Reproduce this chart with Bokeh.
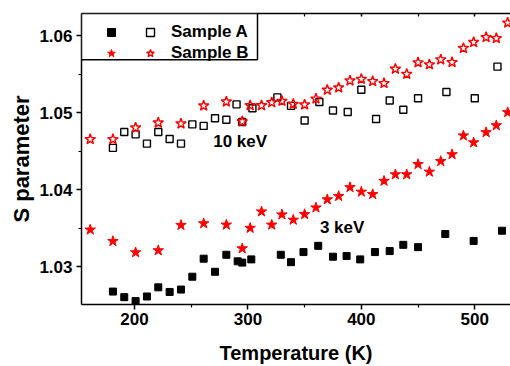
from bokeh.plotting import figure
from bokeh.models import Range1d, LinearAxis, Legend, LegendItem, Label, FixedTicker, BoxAnnotation
from bokeh.embed import file_html
from bokeh.resources import INLINE

# ---------------- data ----------------
# Sample A, 3 keV (filled squares)
temp_a_3kev = [181, 191, 201, 211, 221, 231, 241, 251, 261, 271, 281, 291, 295, 303,
               329, 338, 349, 362, 375, 387, 399, 412, 425, 437, 450, 474, 499, 524]
s_a_3kev = [1.02678, 1.02605, 1.02554, 1.02614, 1.02733, 1.02673, 1.02704, 1.02871,
            1.03105, 1.02935, 1.03156, 1.03071, 1.03054, 1.03096, 1.03156, 1.03060,
            1.03191, 1.03272, 1.03131, 1.03140, 1.03096, 1.03191, 1.03204, 1.03285,
            1.03255, 1.03426, 1.03336, 1.03468]

# Sample A, 10 keV (open squares)
temp_a_10kev = [181, 191, 201, 211, 221, 231, 241, 251, 261, 271, 281, 290, 295, 304,
                326, 338, 350, 363, 375, 388, 400, 413, 425, 437, 450, 475, 500, 520]
s_a_10kev = [1.04545, 1.04750, 1.04720, 1.04600, 1.04750, 1.04660, 1.04600, 1.04850,
             1.04830, 1.04930, 1.04910, 1.05110, 1.04880, 1.05060, 1.05200, 1.05090,
             1.04900, 1.05140, 1.05030, 1.05010, 1.05300, 1.04920, 1.05160, 1.05040,
             1.05190, 1.05270, 1.05190, 1.05600]

# Sample B (stars)
temp_b = [161, 181, 201, 221, 241, 261, 281, 295, 302, 312, 321, 330, 340, 350, 360, 370,
          380, 390, 400, 410, 420, 430, 440, 450, 460, 470, 480, 490, 499, 510, 519, 529]
s_b_3kev = [1.03481, 1.03332, 1.03186, 1.03212, 1.03541, 1.03563, 1.03545, 1.03237,
            1.03503, 1.03717, 1.03545, 1.03678, 1.03609, 1.03682, 1.03768, 1.03874,
            1.03917, 1.04032, 1.03973, 1.03942, 1.04114, 1.04199, 1.04199, 1.04332,
            1.04233, 1.04371, 1.04460, 1.04704, 1.04614, 1.04746, 1.04836, 1.05006]
s_b_10kev = [1.04656, 1.04656, 1.04806, 1.04871, 1.04858, 1.05092, 1.05144, 1.04887,
             1.05096, 1.05096, 1.05135, 1.05153, 1.05114, 1.05105, 1.05182, 1.05297,
             1.05327, 1.05417, 1.05438, 1.05409, 1.05383, 1.05570, 1.05503, 1.05653,
             1.05627, 1.05691, 1.05656, 1.05840, 1.05917, 1.05981, 1.05968, 1.06169]

x_major_ticks = [200, 300, 400, 500]
x_minor_ticks = [250, 350, 450]
y_major_ticks = [1.03, 1.04, 1.05, 1.06]
y_minor_ticks = [1.035, 1.045, 1.055]

series_names = ["Sample A", "Sample B"]
energy_labels = ["10 keV", "3 keV"]
# annotation anchors in data space (left, baseline)
energy_label_pos = [(269.4, 1.04622), (363.5, 1.03512)]

FONT = "Liberation Sans"

X_START, X_END = 153.3, 531.5
Y_START, Y_END = 1.0251, 1.0629
FIG_W, FIG_H = 510, 366
B_LEFT, B_TOP, B_BOTTOM, B_RIGHT = 81, 13, 58, 0
FRAME_W = FIG_W - B_LEFT - B_RIGHT
FRAME_H = FIG_H - B_TOP - B_BOTTOM

p = figure(width=FIG_W, height=FIG_H, output_backend="svg", toolbar_location=None,
           x_range=Range1d(X_START, X_END), y_range=Range1d(Y_START, Y_END),
           min_border_left=B_LEFT, min_border_top=B_TOP, min_border_bottom=B_BOTTOM,
           min_border_right=B_RIGHT,
           x_axis_label="Temperature (K)", y_axis_label="S parameter")
p.grid.visible = False
p.outline_line_color = None
p.background_fill_color = "white"

xa = p.xaxis[0]
ya = p.yaxis[0]
xa.ticker = FixedTicker(ticks=x_major_ticks, minor_ticks=x_minor_ticks)
ya.ticker = FixedTicker(ticks=y_major_ticks, minor_ticks=y_minor_ticks)
for ax in (xa, ya):
    ax.major_label_text_font = FONT
    ax.major_label_text_font_style = "bold"
    ax.major_label_text_font_size = "17px"
    ax.major_label_text_color = "black"
    ax.axis_label_text_font = FONT
    ax.axis_label_text_font_style = "bold"
    ax.axis_label_text_color = "black"
    ax.axis_line_width = 1.5
    ax.axis_line_color = "black"
    ax.major_tick_line_width = 1.5
    ax.minor_tick_line_width = 1.2
    ax.major_tick_in = 0
    ax.major_tick_out = 5
    ax.minor_tick_in = 0
    ax.minor_tick_out = 3
xa.axis_label_text_font_size = "20px"
ya.axis_label_text_font_size = "22px"
xa.major_label_standoff = 3
ya.major_label_standoff = 4
xa.axis_label_standoff = 14
ya.axis_label_standoff = 2

top = LinearAxis(ticker=FixedTicker(ticks=x_major_ticks, minor_ticks=x_minor_ticks),
                 major_label_text_font_size="1px", major_label_text_alpha=0.0,
                 major_label_standoff=0,
                 major_tick_in=3, major_tick_out=0, minor_tick_in=3, minor_tick_out=0,
                 axis_line_width=1.5, axis_line_color="black",
                 major_tick_line_width=1.5, minor_tick_line_width=1.2)
p.add_layout(top, "above")

r_a3 = p.scatter(temp_a_3kev, s_a_3kev, marker="square", size=7,
                 fill_color="black", line_color="black")
r_a10 = p.scatter(temp_a_10kev, s_a_10kev, marker="square", size=7,
                  fill_color=None, line_color="black", line_width=1.4)
r_b3 = p.scatter(temp_b, s_b_3kev, marker="star", size=11,
                 fill_color="red", line_color="red")
r_b10 = p.scatter(temp_b, s_b_10kev, marker="star", size=11,
                  fill_color=None, line_color="red", line_width=1.4)

for txt, (lx, ly) in zip(energy_labels, energy_label_pos):
    p.add_layout(Label(x=lx, y=ly, text=txt, text_font=FONT, text_font_style="bold",
                       text_font_size="17px", text_color="black",
                       text_align="left", text_baseline="alphabetic"))

# legend frame: 176 px wide, 47 px tall, in the top-left corner of the plot frame,
# converted to data units through the ranges
LEG_W_PX, LEG_H_PX = 176, 47
box_right = X_START + LEG_W_PX * (X_END - X_START) / FRAME_W
box_bottom = Y_END - LEG_H_PX * (Y_END - Y_START) / FRAME_H
frame_box = dict(left=X_START, right=box_right, bottom=box_bottom, top=Y_END)
p.add_layout(BoxAnnotation(**frame_box, fill_color="white", fill_alpha=1.0,
                           line_color=None))

# filled markers + labels
leg_main = Legend(items=[LegendItem(label=series_names[0], renderers=[r_a3]),
                         LegendItem(label=series_names[1], renderers=[r_b3])],
                  location=(2, 241), margin=0, padding=0, spacing=1,
                  glyph_width=56, glyph_height=20, label_height=20, label_standoff=32,
                  label_text_font=FONT, label_text_font_style="bold",
                  label_text_font_size="17px", label_text_color="black",
                  border_line_color=None, background_fill_color=None,
                  background_fill_alpha=0.0)
# second column of markers (open symbols)
leg_open = Legend(items=[LegendItem(label=" ", renderers=[r_a10]),
                         LegendItem(label=" ", renderers=[r_b10])],
                  location=(59, 241), margin=0, padding=0, spacing=1,
                  glyph_width=20, glyph_height=20, label_height=20, label_standoff=0,
                  label_text_font_size="17px",
                  border_line_color=None, background_fill_color=None,
                  background_fill_alpha=0.0)
p.add_layout(leg_main, "center")
p.add_layout(leg_open, "center")

# legend frame border drawn last, on top of everything
p.add_layout(BoxAnnotation(**frame_box, fill_alpha=0.0, fill_color=None,
                           line_color="black", line_width=1.5, line_alpha=1.0))

open("out.html", "w").write(file_html(p, INLINE))
